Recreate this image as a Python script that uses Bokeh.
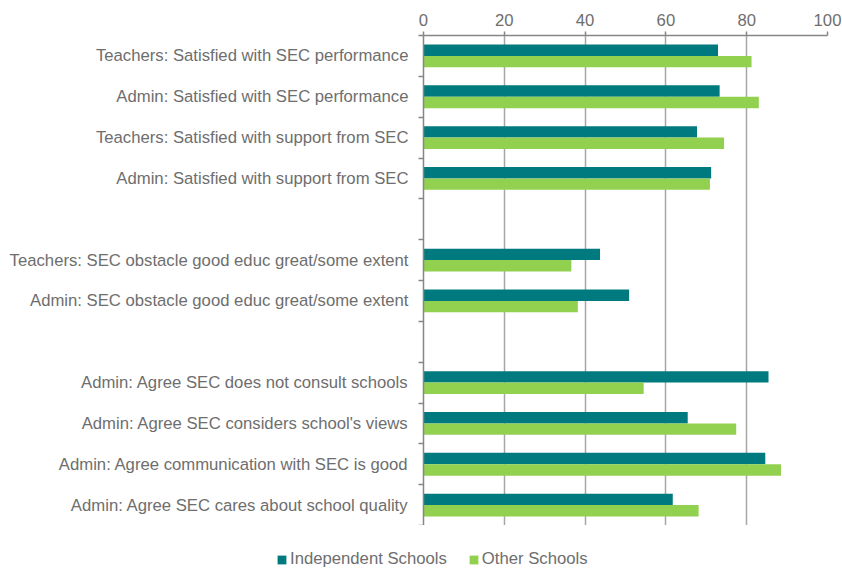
from bokeh.plotting import figure
from bokeh.layouts import column
from bokeh.models import Range1d, FixedTicker, ColumnDataSource, Legend, LegendItem
from bokeh.transform import dodge
from bokeh.embed import file_html
from bokeh.resources import INLINE

categories = [
    "Teachers: Satisfied with SEC performance",
    "Admin: Satisfied with SEC performance",
    "Teachers: Satisfied with support from SEC",
    "Admin: Satisfied with support from SEC",
    "",
    "Teachers: SEC obstacle good educ great/some extent",
    "Admin: SEC obstacle good educ great/some extent",
    " ",
    "Admin: Agree SEC does not consult schools",
    "Admin: Agree SEC considers school's views",
    "Admin: Agree communication with SEC is good",
    "Admin: Agree SEC cares about school quality",
]
independent = [72.9, 73.3, 67.7, 71.2, None, 43.7, 50.9, None, 85.4, 65.4, 84.6, 61.7]
other = [81.2, 83.0, 74.4, 70.9, None, 36.6, 38.2, None, 54.5, 77.4, 88.5, 68.1]
x_ticks = [0, 20, 40, 60, 80, 100]
series_names = ["Independent Schools", "Other Schools"]

TEAL = "#007A7E"
GREEN = "#92D050"
TXT = "#6E6E6E"
AX = "#868686"
FONT = "Liberation Sans"

n = len(categories)
rows = [i for i, v in enumerate(independent) if v is not None]
src = ColumnDataSource(dict(
    y=rows,
    ind=[independent[i] for i in rows],
    oth=[other[i] for i in rows],
))

p = figure(width=842, height=525,
           x_range=Range1d(0, 100), y_range=Range1d(n - 0.5, -0.5),
           x_axis_location="above",
           output_backend="svg", toolbar_location=None,
           min_border_left=423, min_border_right=15,
           min_border_top=35, min_border_bottom=0)
p.frame_align = False

p.hbar(y=dodge("y", -0.14, range=p.y_range), right="ind", left=0, height=0.28,
       source=src, fill_color=TEAL, line_color=None)
p.hbar(y=dodge("y", 0.14, range=p.y_range), right="oth", left=0, height=0.28,
       source=src, fill_color=GREEN, line_color=None)

p.outline_line_color = None
p.background_fill_color = "white"
p.border_fill_color = "white"

xa = p.xaxis[0]
xa.ticker = FixedTicker(ticks=x_ticks)
xa.axis_line_color = AX
xa.axis_line_width = 1.5
xa.major_tick_line_color = AX
xa.major_tick_line_width = 1.5
xa.major_tick_out = 4
xa.major_tick_in = 0
xa.minor_tick_line_color = None
xa.major_label_text_font = FONT
xa.major_label_text_font_size = "16.7px"
xa.major_label_text_color = TXT
xa.major_label_standoff = 6

ya = p.yaxis[0]
ya.ticker = FixedTicker(ticks=list(range(n)), minor_ticks=[i - 0.5 for i in range(n + 1)])
ya.major_label_overrides = {i: c.strip() for i, c in enumerate(categories)}
ya.axis_line_color = AX
ya.axis_line_width = 1.5
ya.major_tick_line_color = None
ya.minor_tick_line_color = AX
ya.minor_tick_line_width = 1.5
ya.minor_tick_out = 5
ya.minor_tick_in = 0
ya.major_label_text_font = FONT
ya.major_label_text_font_size = "16.7px"
ya.major_label_text_color = TXT
ya.major_label_standoff = 9

p.xgrid.grid_line_color = "#A6A6A6"
p.xgrid.grid_line_width = 1.5
p.ygrid.grid_line_color = None

# legend strip below the chart
lg = figure(width=842, height=47, x_range=Range1d(0, 1), y_range=Range1d(0, 1),
            output_backend="svg", toolbar_location=None,
            min_border_left=0, min_border_right=0, min_border_top=0, min_border_bottom=0)
lg.frame_align = False
lg.axis.visible = False
lg.grid.visible = False
lg.outline_line_color = None
nan = float("nan")
key_src = ColumnDataSource(dict(y=[nan], right=[nan]))
k1 = lg.hbar(y="y", right="right", left=0, height=1, source=key_src, fill_color=TEAL, line_color=None)
k2 = lg.hbar(y="y", right="right", left=0, height=1, source=key_src, fill_color=GREEN, line_color=None)
legend = Legend(items=[LegendItem(label=series_names[0], renderers=[k1]),
                       LegendItem(label=series_names[1], renderers=[k2])],
                location=(276, 3), orientation="horizontal",
                glyph_width=11, glyph_height=11, label_standoff=3, spacing=21,
                padding=0, margin=0, border_line_color=None, background_fill_alpha=0,
                label_text_font=FONT, label_text_font_size="16.7px", label_text_color=TXT)
lg.add_layout(legend, "center")

layout = column(p, lg, spacing=0)
open("out.html", "w").write(file_html(layout, INLINE))
